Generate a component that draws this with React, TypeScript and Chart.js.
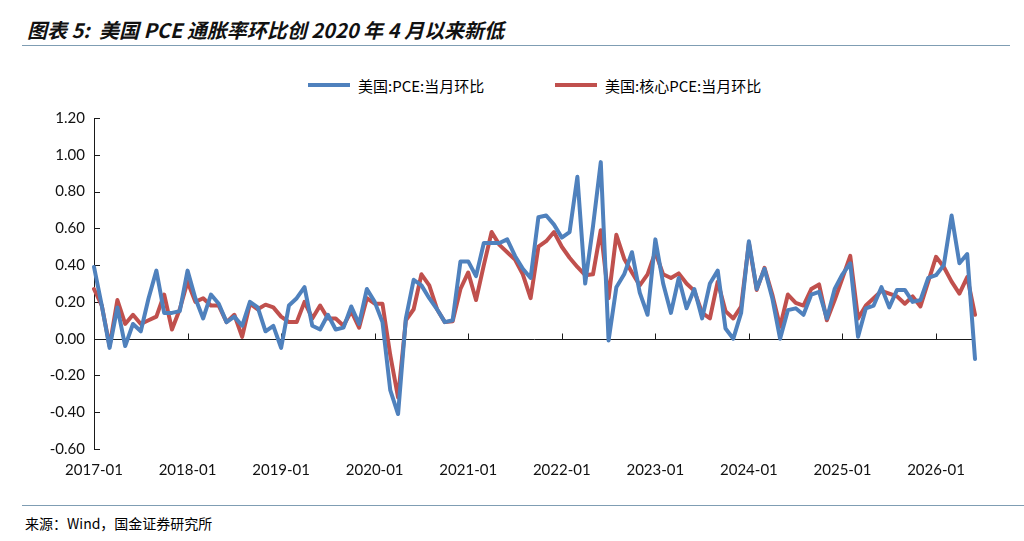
import { useEffect, useRef } from "react";
import { Chart, ChartConfiguration, Plugin, registerables } from "chart.js";

Chart.register(...registerables);

// monthly series, first point = 2017-01
const START_YEAR = 2017;

const pceMoM = [
  0.39, 0.18, -0.05, 0.17, -0.04, 0.08, 0.04, 0.22, 0.37, 0.14, 0.14, 0.15,
  0.37, 0.22, 0.11, 0.24, 0.19, 0.09, 0.12, 0.07, 0.2, 0.17, 0.04, 0.07,
  -0.05, 0.18, 0.22, 0.28, 0.07, 0.05, 0.13, 0.05, 0.06, 0.175, 0.08, 0.27,
  0.2, 0.09, -0.28, -0.41, 0.11, 0.32, 0.29, 0.22, 0.16, 0.09, 0.1, 0.42,
  0.42, 0.34, 0.52, 0.52, 0.52, 0.54, 0.45, 0.38, 0.33, 0.66, 0.67, 0.62,
  0.55, 0.58, 0.88, 0.3, 0.61, 0.96, -0.01, 0.28, 0.35, 0.47, 0.25, 0.13,
  0.54, 0.3, 0.14, 0.33, 0.165, 0.27, 0.11, 0.3, 0.37, 0.055, 0.0, 0.14,
  0.53, 0.27, 0.38, 0.22, 0.0, 0.155, 0.165, 0.13, 0.24, 0.255, 0.11, 0.27,
  0.35, 0.41, 0.01, 0.165, 0.18, 0.28, 0.17, 0.265, 0.265, 0.2, 0.21, 0.33,
  0.345, 0.4, 0.67, 0.41, 0.46, -0.11,
];

const corePceMoM = [
  0.27, 0.18, -0.04, 0.21, 0.08, 0.13, 0.08, 0.1, 0.12, 0.24, 0.05, 0.16,
  0.31, 0.2, 0.22, 0.18, 0.18, 0.09, 0.13, 0.01, 0.19, 0.16, 0.185, 0.17,
  0.12, 0.09, 0.09, 0.2, 0.11, 0.18, 0.11, 0.11, 0.07, 0.15, 0.06, 0.22,
  0.19, 0.19, -0.09, -0.32, 0.1, 0.16, 0.35, 0.29, 0.16, 0.09, 0.095, 0.27,
  0.36, 0.21, 0.4, 0.58, 0.51, 0.47, 0.43, 0.35, 0.22, 0.5, 0.53, 0.58,
  0.5, 0.44, 0.39, 0.345, 0.35, 0.59, 0.22, 0.565, 0.435, 0.36, 0.29, 0.35,
  0.47, 0.35, 0.33, 0.355, 0.3, 0.26, 0.14, 0.11, 0.31, 0.15, 0.11, 0.175,
  0.52, 0.265, 0.385, 0.24, 0.065, 0.24, 0.195, 0.18, 0.27, 0.295, 0.1, 0.21,
  0.33, 0.45, 0.11, 0.18, 0.22, 0.26, 0.245, 0.23, 0.19, 0.23, 0.175, 0.31,
  0.445, 0.39, 0.31, 0.245, 0.335, 0.13,
];

const months = pceMoM.map((_, i) => {
  const y = START_YEAR + Math.floor(i / 12);
  const m = (i % 12) + 1;
  return `${y}-${m < 10 ? "0" + m : m}`;
});

const seriesNames = ["美国:PCE:当月环比", "美国:核心PCE:当月环比"];
const seriesColors = ["#4F81BD", "#C0504D"];

const AXIS_COLOR = "#1a1a1a";
const NUM_FONT = "Lato, 'Liberation Sans', sans-serif";
const CJK_FONT = "'Noto Sans CJK SC', 'Noto Sans', sans-serif";

// zero line with year ticks pointing up, y ticks pointing into the plot
const axisMarks: Plugin<"line"> = {
  id: "axisMarks",
  beforeDatasetsDraw(chart) {
    const { ctx, chartArea, scales } = chart;
    const x = scales.x;
    const y = scales.y;
    ctx.save();
    ctx.strokeStyle = AXIS_COLOR;
    ctx.lineWidth = 1;
    ctx.beginPath();
    const y0 = Math.round(y.getPixelForValue(0)) + 0.5;
    ctx.moveTo(chartArea.left, y0);
    ctx.lineTo(chartArea.right, y0);
    months.forEach((m, i) => {
      if (m.endsWith("-01")) {
        const px = Math.round(x.getPixelForValue(i)) + 0.5;
        ctx.moveTo(px, y0);
        ctx.lineTo(px, y0 - 6);
      }
    });
    y.ticks.forEach((t) => {
      const py = Math.round(y.getPixelForValue(t.value)) + 0.5;
      ctx.moveTo(chartArea.left, py);
      ctx.lineTo(chartArea.left + 6, py);
    });
    ctx.stroke();
    ctx.restore();
  },
};

function PceChart() {
  const canvasRef = useRef<HTMLCanvasElement>(null);
  const chartRef = useRef<Chart | null>(null);

  useEffect(() => {
    if (!canvasRef.current) return;
    if (chartRef.current) chartRef.current.destroy();
    const ctx = canvasRef.current.getContext("2d");
    if (!ctx) return;

    const config: ChartConfiguration<"line"> = {
      type: "line",
      data: {
        labels: months,
        datasets: [pceMoM, corePceMoM].map((d, k) => ({
          label: seriesNames[k],
          data: d,
          borderColor: seriesColors[k],
          backgroundColor: seriesColors[k],
          borderWidth: 4,
          pointRadius: 0,
          tension: 0,
          fill: false,
        })),
      },
      options: {
        animation: false,
        responsive: true,
        maintainAspectRatio: false,
        layout: { padding: { top: 15, right: 25, left: 0, bottom: 0 } },
        plugins: {
          legend: { display: false },
          tooltip: { enabled: false },
        },
        elements: { line: { borderJoinStyle: "round", borderCapStyle: "round" } },
        scales: {
          x: {
            grid: { display: false, drawTicks: false },
            border: { display: false },
            ticks: {
              autoSkip: false,
              maxRotation: 0,
              minRotation: 0,
              padding: 12,
              color: "#111",
              font: { family: NUM_FONT, size: 15 },
              callback: (_v, i) => (months[i].endsWith("-01") ? months[i] : ""),
            },
            afterFit: (s) => {
              s.height = 41;
            },
          },
          y: {
            min: -0.6,
            max: 1.2,
            grid: { display: false, drawTicks: false },
            border: { display: true, color: AXIS_COLOR, width: 1 },
            ticks: {
              stepSize: 0.2,
              padding: 9,
              color: "#111",
              font: { family: NUM_FONT, size: 15 },
              callback: (v) => {
                const n = Number(v);
                return Math.abs(n) < 1e-9 ? "0.00" : n.toFixed(2);
              },
            },
            afterFit: (s) => {
              s.width = 94;
            },
          },
        },
      },
      plugins: [axisMarks],
    };

    chartRef.current = new Chart(ctx, config);
    return () => {
      if (chartRef.current) {
        chartRef.current.destroy();
        chartRef.current = null;
      }
    };
  }, []);

  return <canvas ref={canvasRef} />;
}

export default function App() {
  return (
    <div
      style={{
        position: "fixed",
        left: 0,
        top: 0,
        width: 1024,
        height: 541,
        background: "#fff",
        overflow: "hidden",
      }}
    >
      <div
        style={{
          position: "absolute",
          left: 27,
          top: 16,
          fontFamily: CJK_FONT,
          fontStyle: "italic",
          fontWeight: 700,
          fontSize: 20,
          lineHeight: "28px",
          color: "#111",
          whiteSpace: "pre",
        }}
      >
        图表 5:  美国 PCE 通胀率环比创 2020 年 4 月以来新低
      </div>
      <div
        style={{
          position: "absolute",
          left: 22,
          top: 45,
          width: 988,
          height: 1,
          background: "#7f9db3",
        }}
      />
      {seriesNames.map((name, k) => (
        <div
          key={name}
          style={{
            position: "absolute",
            left: k === 0 ? 308 : 555,
            top: 74,
            height: 22,
            display: "flex",
            alignItems: "center",
            fontFamily: CJK_FONT,
            fontSize: 15,
            color: "#000",
            whiteSpace: "nowrap",
          }}
        >
          <span
            style={{
              display: "inline-block",
              width: 42,
              height: 4,
              background: seriesColors[k],
              marginRight: 8,
            }}
          />
          {name}
        </div>
      ))}
      <div style={{ position: "absolute", left: 0, top: 100, width: 1000, height: 390 }}>
        <PceChart />
      </div>
      <div
        style={{
          position: "absolute",
          left: 22,
          top: 505,
          width: 1002,
          height: 1,
          background: "#7f9db3",
        }}
      />
      <div
        style={{
          position: "absolute",
          left: 25,
          top: 514,
          fontFamily: CJK_FONT,
          fontSize: 14,
          lineHeight: "19px",
          color: "#000",
          whiteSpace: "pre",
        }}
      >
        来源：Wind，国金证券研究所
      </div>
    </div>
  );
}
